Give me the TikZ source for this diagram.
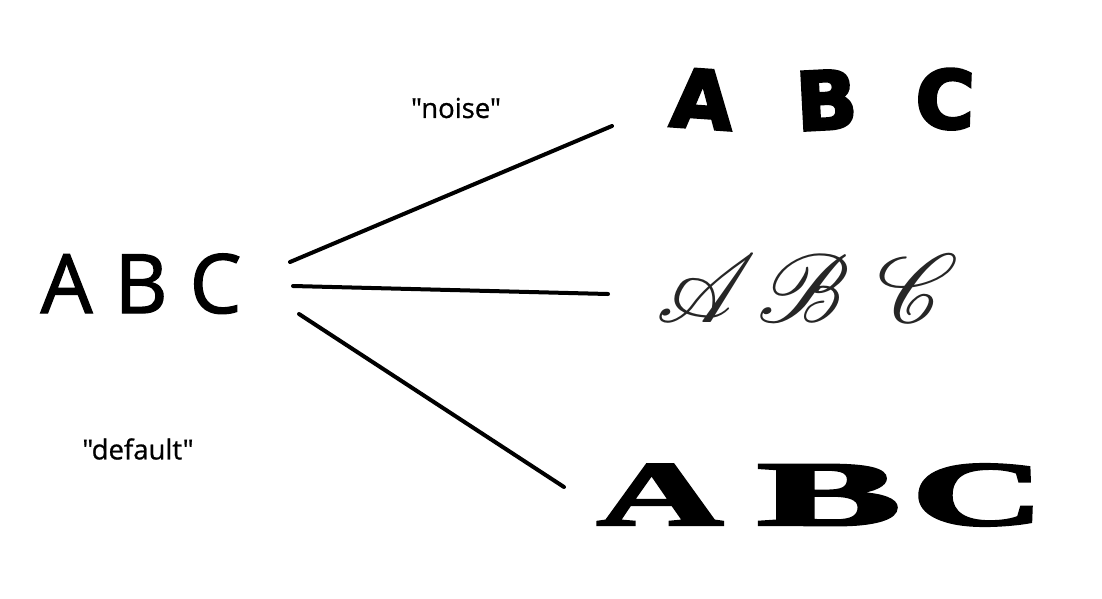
\documentclass[tikz,border=0pt]{standalone}
\usepackage{fontspec}
\usepackage{mathrsfs}
\usepackage{graphicx}
\setmainfont{Open Sans}[Ligatures=TeXOff]
\newfontfamily\srcfont[FakeBold=1.6,Ligatures=TeXOff]{Open Sans}
\newfontfamily\lblfont[FakeBold=0.8,Ligatures=TeXOff]{Open Sans}
\newfontfamily\noisefont[FakeBold=4]{DejaVu Sans}
\newfontfamily\wideserif[FakeBold=2.5]{Liberation Serif}
\newcommand{\bigscript}[1]{\scalebox{3.9}{\fontsize{24.88}{24.88}\usefont{U}{rsfs}{m}{n}#1}}
\tikzset{
  conn/.style={line width=4pt, line cap=round},
  lbl/.style={inner sep=0pt, font=\lblfont\fontsize{27.5}{27.5}\selectfont},
  noisy/.style={inner sep=0pt, anchor=base, font=\noisefont\bfseries\fontsize{80}{80}\selectfont},
  scriptl/.style={inner sep=0pt, anchor=base, text=black!85},
  widel/.style={inner sep=0pt, anchor=base, font=\wideserif\bfseries\fontsize{92}{92}\selectfont},
}
\begin{document}
\begin{tikzpicture}[x=1pt,y=-1pt]
\path[use as bounding box, fill=white] (0,0) rectangle (1102,598);
% source
\node[inner sep=0pt, anchor=base, font=\srcfont\fontsize{82}{82}\selectfont] (src) at (141,313) {A\hspace{22pt}B\hspace{22pt}C};
% labels
\node[lbl] (noise) at (456,108) {"noise"};
\node[lbl] (default) at (138,449) {"default"};
% noise row
\node[noisy, rotate=-4] (nA) at (700,128) {A};
\node[noisy, rotate=3] (nB) at (828,129) {B};
\node[noisy, rotate=-2] (nC) at (944,128) {C};
% script row
\node[scriptl] (sA) at (695,322) {\bigscript{A}};
\node[scriptl] (sB) at (802,322) {\bigscript{B}};
\node[scriptl] (sC) at (910,322) {\bigscript{C}};
% wide row
\node[widel] (wA) at (660,525) {\scalebox{1.9}[1]{A}};
\node[widel] (wB) at (829,525) {\scalebox{2.35}[1]{B}};
\node[widel] (wC) at (978,525) {\scalebox{2.0}[1]{C}};
% connector endpoints
\coordinate (s1) at (290,262);
\coordinate (s2) at (293,286);
\coordinate (s3) at (299,314);
\coordinate (e1) at (612,126);
\coordinate (e2) at (608,294);
\coordinate (e3) at (564,487);
\draw[conn] (s1) -- (e1);
\draw[conn] (s2) -- (e2);
\draw[conn] (s3) -- (e3);
\end{tikzpicture}
\end{document}
